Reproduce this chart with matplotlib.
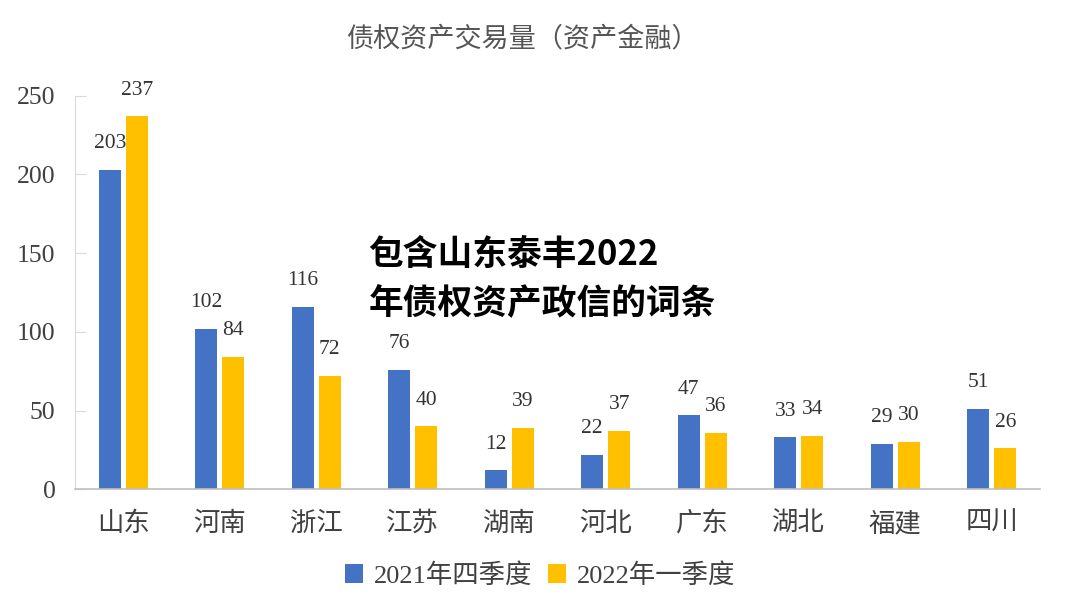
import numpy as np
import matplotlib
matplotlib.use("Agg")
import matplotlib.pyplot as plt

plt.rcParams['font.family'] = ['Liberation Serif', 'Noto Sans CJK SC', 'DejaVu Sans']

# 数据
provinces = ['山东', '河南', '浙江', '江苏', '湖南', '河北', '广东', '湖北', '福建', '四川']
q4_2021 = [203, 102, 116, 76, 12, 22, 47, 33, 29, 51]
q1_2022 = [237, 84, 72, 40, 39, 37, 36, 34, 30, 26]
series_names = ['2021年四季度', '2022年一季度']
y_ticks = [0, 50, 100, 150, 200, 250]

blue = '#4472C4'
yellow = '#FFC000'

fig = plt.figure(figsize=(10.8, 6.1), dpi=100)
ax = fig.add_axes([0.0694, 0.198, 0.8935, 0.645])

x = np.arange(len(provinces))
w = 0.23
gap = 0.025
b1 = ax.bar(x - w / 2 - gap, q4_2021, width=w, color=blue, label=series_names[0])
b2 = ax.bar(x + w / 2 + gap, q1_2022, width=w, color=yellow, label=series_names[1])

# 数值标签
for bars, vals in ((b1, q4_2021), (b2, q1_2022)):
    for bar, v in zip(bars, vals):
        ax.annotate(str(v), (bar.get_x() + bar.get_width() / 2, v),
                    xytext=(0, 12), textcoords='offset points',
                    ha='center', va='bottom', fontsize=15.5, color='#333333')

ax.set_xlim(-0.5, len(provinces) - 0.5)
ax.set_ylim(0, 250)
ax.set_yticks(y_ticks)
ax.set_xticks(x)
ax.set_xticklabels(provinces)

ax.spines['top'].set_visible(False)
ax.spines['right'].set_visible(False)
ax.spines['left'].set_color('#d9d9d9')
ax.spines['bottom'].set_color('#bfbfbf')
ax.spines['bottom'].set_linewidth(1.2)
ax.tick_params(axis='y', direction='in', length=8, color='#d9d9d9',
               labelsize=18.5, labelcolor='#404040', pad=14)
ax.tick_params(axis='x', length=0, labelsize=19, labelcolor='#404040', pad=16)

fig.text(0.484, 0.935, '债权资产交易量（资产金融）', ha='center', va='center',
         fontsize=19.5, color='#555555')

leg = fig.legend(loc='center', bbox_to_anchor=(0.5, 0.057), ncol=2, frameon=False,
                 fontsize=19, handlelength=0.7, handleheight=0.7,
                 handletextpad=0.4, columnspacing=0.6, labelcolor='#404040')

# 叠加文字
fig.text(0.341, 0.543, '包含山东泰丰2022\n年债权资产政信的词条', ha='left', va='center',
         fontsize=25, fontweight='bold', color='black', linespacing=1.5,
         family=['Noto Sans CJK SC', 'DejaVu Sans'])

fig.savefig('out.png', dpi=100)
